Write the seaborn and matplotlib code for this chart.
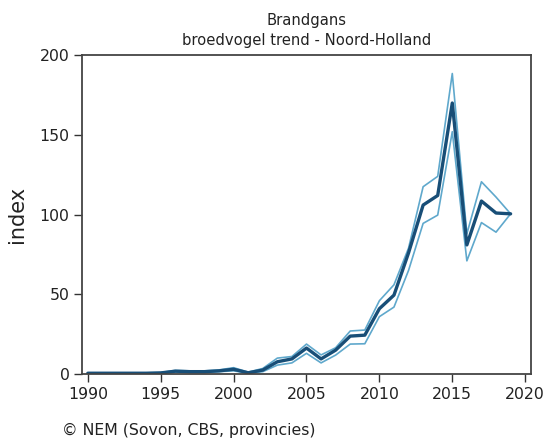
import matplotlib
matplotlib.use("Agg")
import matplotlib.pyplot as plt
import seaborn as sns
import pandas as pd

years = list(range(1990, 2020))
index = [0.5, 0.5, 0.5, 0.5, 0.5, 0.7, 1.8, 1.5, 1.5, 2.0, 3.0, 0.8, 2.5, 7.7, 9.5, 16.3,
         9.5, 15.0, 23.8, 24.4, 41.0, 49.5, 76.0, 106.0, 112.0, 170.0, 81.0, 108.5, 101.0, 100.5]
upper = [0.8, 0.8, 0.8, 0.8, 0.8, 1.0, 2.3, 2.0, 2.0, 2.6, 4.0, 1.2, 3.5, 10.0, 11.0, 18.8,
         12.0, 16.5, 27.0, 27.6, 46.0, 56.0, 79.0, 117.5, 124.0, 188.5, 88.0, 120.6, 111.0, 100.5]
lower = [0.3, 0.3, 0.3, 0.3, 0.3, 0.4, 1.3, 1.0, 1.0, 1.5, 2.0, 0.5, 1.5, 5.6, 7.0, 13.0,
         7.0, 11.9, 18.8, 19.0, 36.0, 42.0, 65.0, 94.5, 99.7, 152.0, 71.0, 95.0, 89.0, 100.5]

df = pd.DataFrame({"jaar": years, "index": index, "upper": upper, "lower": lower})

sns.set_style("ticks")
plt.rcParams['font.family'] = ['DejaVu Sans']

fig = plt.figure(figsize=(5.48, 4.38), dpi=100)
ax = fig.add_axes([0.1496, 0.146, 0.8194, 0.728])

light = "#5fa8cc"
dark = "#184e77"
sns.lineplot(data=df, x="jaar", y="upper", color=light, lw=1.2, ax=ax)
sns.lineplot(data=df, x="jaar", y="lower", color=light, lw=1.2, ax=ax)
sns.lineplot(data=df, x="jaar", y="index", color=dark, lw=2.4, ax=ax)

ax.set_xlim(1989.6, 2020.4)
ax.set_ylim(0, 200)
ax.set_xticks([1990, 1995, 2000, 2005, 2010, 2015, 2020])
ax.set_yticks([0, 50, 100, 150, 200])
ax.tick_params(axis="both", labelsize=11.3, length=6, width=1, color="#333333",
               direction="out", labelcolor="#222222", pad=3)
for s in ax.spines.values():
    s.set_color("#444444")
    s.set_linewidth(1.3)
ax.set_xlabel("")
ax.set_ylabel("index", fontsize=15, labelpad=9, color="#222222")
ax.set_title("Brandgans\nbroedvogel trend - Noord-Holland", fontsize=10.6,
             linespacing=1.45, pad=7, color="#222222")
fig.text(62 / 548, 1 - 430 / 438, "\u00a9 NEM (Sovon, CBS, provincies)", fontsize=11.3,
         ha="left", va="center", color="#222222")

fig.savefig("out.png", dpi=100)
